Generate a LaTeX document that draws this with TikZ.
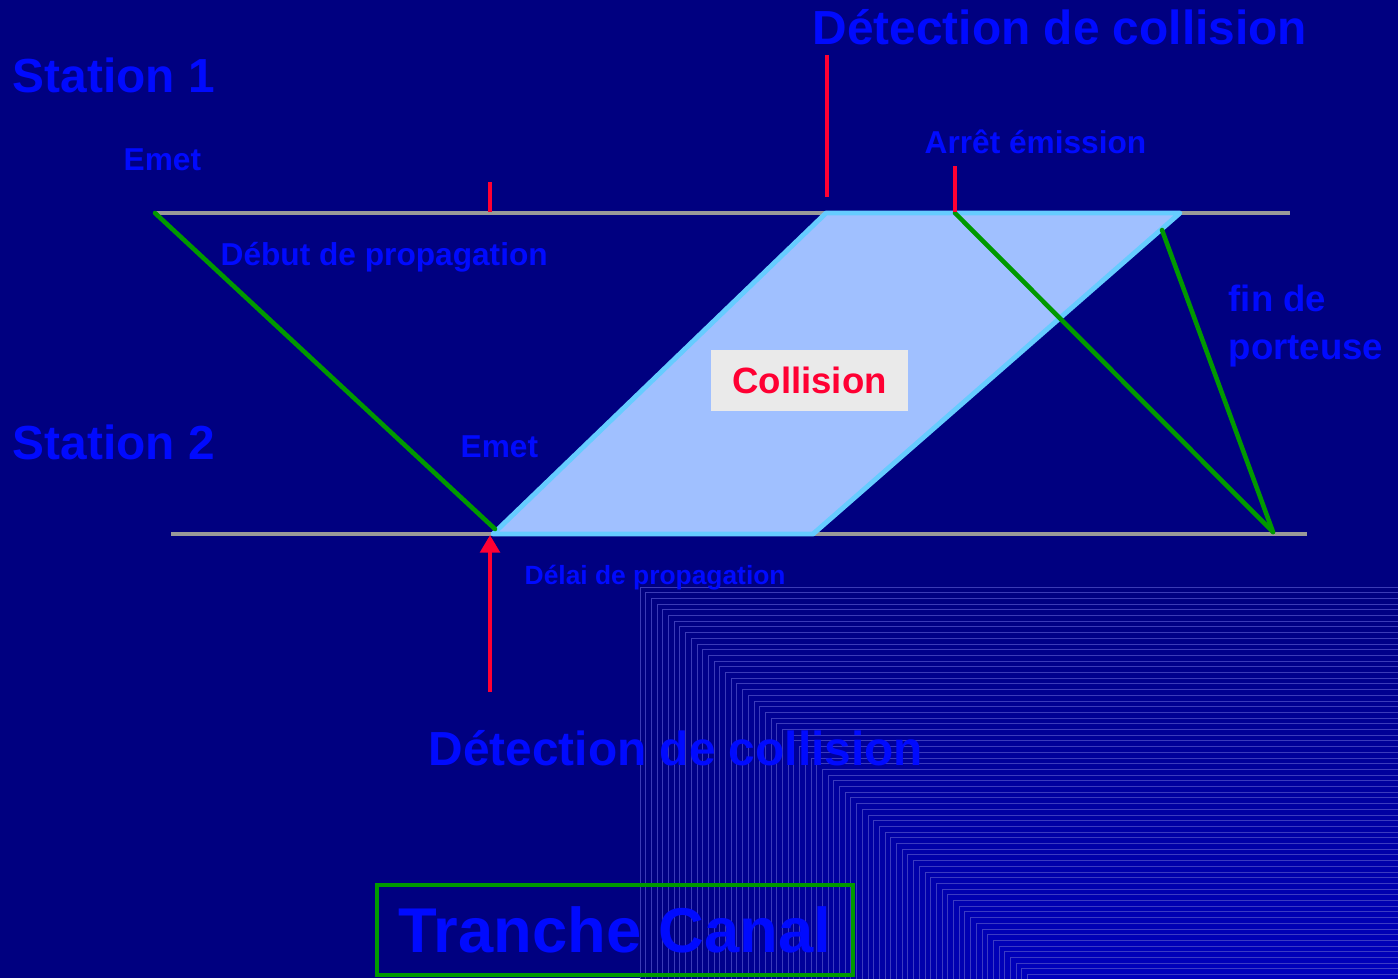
\documentclass[tikz,border=0pt]{standalone}
\usepackage{fontspec}
\setmainfont{Liberation Sans}
\usetikzlibrary{arrows.meta}
\definecolor{bgnavy}{RGB}{0,0,128}
\definecolor{gradend}{RGB}{0,0,188}
\definecolor{gradline}{RGB}{80,80,200}
\definecolor{txtblue}{RGB}{0,10,255}
\definecolor{linegray}{RGB}{153,153,153}
\definecolor{sigred}{RGB}{255,0,51}
\definecolor{siggreen}{RGB}{0,153,0}
\definecolor{collfill}{RGB}{160,192,255}
\definecolor{colledge}{RGB}{102,204,255}
\definecolor{boxgray}{RGB}{234,234,234}
\begin{document}
\begin{tikzpicture}[
  x=0.01cm, y=-0.01cm,
  note/.style={text=txtblue, inner sep=0pt, anchor=base west,
               font=\bfseries\fontsize{9}{11}\selectfont},
  heading/.style={note, font=\bfseries\fontsize{13.6}{16}\selectfont},
  wire/.style={draw=linegray, line width=1.4pt},
  trace/.style={draw=siggreen, line width=1.3pt, line cap=round},
  redmark/.style={draw=sigred, line width=1.2pt},
  arrow/.style={redmark, -{Triangle[width=5.5pt,length=5pt]}}
]
\fill[bgnavy] (0,0) rectangle (1398,978);
\useasboundingbox (0,0) rectangle (1398,978);
\begin{scope}
  \clip (0,0) rectangle (1398,978);
  \foreach \i in {0,...,68}{
    \pgfmathsetmacro{\pct}{100*\i/68}
    \filldraw[fill=gradend!\pct!bgnavy, draw=gradline, draw opacity=0.75,
              line width=0.25pt]
      ({640+5.7*\i},{587+5.7*\i}) rectangle (1402,982);
  }
\end{scope}

\coordinate (s1a) at (155,213);
\coordinate (s1b) at (1290,213);
\coordinate (s2a) at (171,534);
\coordinate (s2b) at (1307,534);
\coordinate (ca) at (493,534);
\coordinate (cb) at (826,213);
\coordinate (cc) at (1180,213);
\coordinate (cd) at (813,534);
\coordinate (emit2) at (495,529);
\coordinate (stop) at (955,213);
\coordinate (stopend) at (1273,532);
\coordinate (carrier) at (1162,230);

\draw[wire] (s1a) -- (s1b);
\draw[wire] (s2a) -- (s2b);
\filldraw[fill=collfill, draw=colledge, line width=1.4pt, line join=round]
  (ca) -- (cb) -- (cc) -- (cd) -- cycle;
\draw[trace] (s1a) -- (emit2);
\draw[trace] (stop) -- (stopend);
\draw[trace] (carrier) -- (stopend);

\coordinate (t1a) at (490,182);
\coordinate (t1b) at (490,212);
\coordinate (t2a) at (827,55);
\coordinate (t2b) at (827,197);
\coordinate (t3a) at (955,166);
\coordinate (t3b) at (955,212);
\coordinate (arrtail) at (490,692);
\coordinate (arrhead) at (490,535);
\draw[redmark] (t1a) -- (t1b);
\draw[redmark] (t2a) -- (t2b);
\draw[redmark] (t3a) -- (t3b);
\draw[arrow] (arrtail) -- (arrhead);

\node[heading] (st1) at (12,92) {Station 1};
\node[heading] (st2) at (12,459) {Station 2};
\node[heading] (dettop) at (812,44) {Détection de collision};
\node[heading] (detbot) at (428,765) {Détection de collision};
\node[note] (emet1) at (123,170) {Emet};
\node[note] (emet2) at (460,457) {Emet};
\node[note] (start) at (220,265) {Début de propagation};
\node[note] (halt) at (924,153) {Arrêt émission};
\node[note, font=\bfseries\fontsize{10.4}{13.6}\selectfont, align=left,
      anchor=north west] (endc) at (1228,284) {fin de\\porteuse};
\node[note, font=\bfseries\fontsize{7.5}{9}\selectfont] (delay) at (524,584)
  {Délai de propagation};
\node[fill=boxgray, text=sigred, minimum width=1.97cm, minimum height=0.61cm,
      font=\bfseries\fontsize{10.4}{12}\selectfont] (coll) at (809.5,380.5) {Collision};
\node[draw=siggreen, line width=1.2pt, text=txtblue, minimum width=4.76cm,
      minimum height=0.9cm, font=\bfseries\fontsize{18}{21}\selectfont]
  (slot) at (615,930) {Tranche Canal};
\end{tikzpicture}
\end{document}
